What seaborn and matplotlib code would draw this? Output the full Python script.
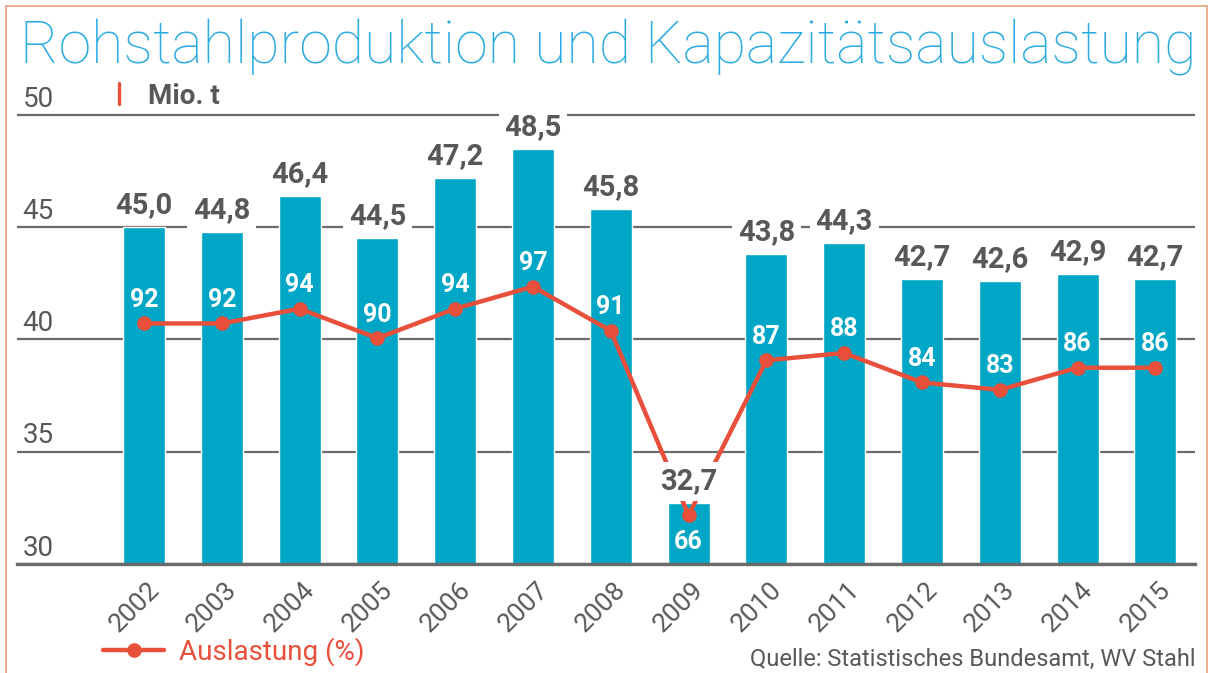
import numpy as np
import pandas as pd
import seaborn as sns
import matplotlib.pyplot as plt
from matplotlib.lines import Line2D
from matplotlib.patches import Rectangle
from matplotlib.transforms import ScaledTranslation

# =============================================================================
# Data
# =============================================================================

years = ["2002", "2003", "2004", "2005", "2006", "2007", "2008",
         "2009", "2010", "2011", "2012", "2013", "2014", "2015"]
production = [45.0, 44.8, 46.4, 44.5, 47.2, 48.5, 45.8,
              32.7, 43.8, 44.3, 42.7, 42.6, 42.9, 42.7]
utilisation = [92, 92, 94, 90, 94, 97, 91, 66, 87, 88, 84, 83, 86, 86]
y_ticks = [30, 35, 40, 45, 50]

title = "Rohstahlproduktion und Kapazitätsauslastung"
unit_label = "Mio. t"
legend_label = "Auslastung (%)"
source = "Quelle: Statistisches Bundesamt, WV Stahl"

df = pd.DataFrame({"Jahr": years, "Produktion": production,
                   "Auslastung": utilisation})
df["pos"] = np.arange(len(df))

# =============================================================================
# Style
# =============================================================================

BAR = "#00A6C5"
RED = "#E9503B"
GREY = "#585858"
GRID = "#6A6A6A"
BLUE = "#2BABE2"
FRAME = "#E4A07C"

sns.set_style("white")
FONT = ["Roboto", "DejaVu Sans"]
plt.rcParams["font.family"] = FONT

# =============================================================================
# Plot
# =============================================================================

fig = plt.figure(figsize=(12.14, 6.73), dpi=100)
ax = fig.add_axes([17 / 1214, 109 / 673, 1178 / 1214, 451.25 / 673])

sns.barplot(data=df, x="Jahr", y="Produktion", color=BAR, width=0.54,
            saturation=1, ax=ax, zorder=2)

ax.set_ylim(30, 50.1)
ax.set_xlim(-1.633, 13.51)
ax.set_yticks(y_ticks)
ax.yaxis.grid(True, color=GRID, linewidth=1.6, zorder=0)
ax.set_axisbelow(True)
ax.tick_params(axis="y", length=0, labelleft=False)
for s in ["top", "right", "left"]:
    ax.spines[s].set_visible(False)
ax.spines["bottom"].set_color(GRID)
ax.spines["bottom"].set_linewidth(2.4)
ax.set_xlabel("")
ax.set_ylabel("")

# ticks between categories, labels under the bars
ax.set_xticks(np.arange(-0.5, len(years), 1), minor=True)
ax.tick_params(axis="x", which="minor", length=9, width=1.8, color=GRID)
ax.tick_params(axis="x", which="major", length=0, pad=10)
ax.set_xticks(df["pos"])
ax.set_xticklabels(years, rotation=45, ha="right", fontsize=19,
                   color=GREY)
for lbl in ax.get_xticklabels():
    lbl.set_transform(lbl.get_transform()
                      + ScaledTranslation(20 / 100, 0, fig.dpi_scale_trans))

for v in y_ticks:
    ax.annotate(str(v), xy=(0, v), xycoords=ax.get_yaxis_transform(),
                xytext=(4, 6), textcoords="offset points", va="baseline",
                ha="left", fontsize=20, color=GREY)

# utilisation line on second axis
ax2 = ax.twinx()
sns.lineplot(data=df, x="pos", y="Auslastung", color=RED, linewidth=3.2,
             marker="o", markersize=10.5, markeredgewidth=0, ax=ax2,
             legend=False)
ax2.set_ylim(59.38, 120.58)
ax2.set_xlim(-1.633, 13.51)
ax2.axis("off")

lowest = min(utilisation)
for x, p in zip(df["pos"], utilisation):
    if p == lowest:
        ax2.annotate(str(p), xy=(x, p), xytext=(0, -11),
                     textcoords="offset points", ha="center", va="top",
                     fontsize=18, fontweight="bold", color="white")
    else:
        ax2.annotate(str(p), xy=(x, p), xytext=(0, 12),
                     textcoords="offset points", ha="center",
                     va="baseline", fontsize=18, fontweight="bold",
                     color="white")

# bar values (drawn on ax2 so their white box cuts the red line)
for x, v in zip(df["pos"], production):
    ax2.annotate(f"{v:.1f}".replace(".", ","), xy=(x, v),
                 xycoords=ax.transData, xytext=(0, 10),
                 textcoords="offset points", ha="center", va="baseline",
                 fontsize=21, fontweight="bold", color=GREY,
                 bbox=dict(boxstyle="square,pad=0.2", fc="white", ec="none"))

# =============================================================================
# Texts, legend, frame
# =============================================================================

fig.text(20 / 1214, 1 - 63 / 673, title, fontsize=42.5, color=BLUE,
         fontweight="light", ha="left", va="baseline")

fig.add_artist(Line2D([119 / 1214, 119 / 1214], [1 - 104 / 673, 1 - 83 / 673],
                      color=RED, linewidth=2.4))
fig.text(148 / 1214, 1 - 104 / 673, unit_label, fontsize=20,
         fontweight="bold", color=GREY, ha="left", va="baseline")

fig.text(1195 / 1214, 1 - 666 / 673, source, fontsize=17, color=GREY,
         ha="right", va="baseline")

handle = Line2D([], [], color=RED, linewidth=3.2, marker="o",
                markersize=10.5, markeredgewidth=0)
fig.legend([handle], [legend_label], loc="center left",
           bbox_to_anchor=(103 / 1214, 1 - 652 / 673), frameon=False,
           borderpad=0, borderaxespad=0, handlelength=2.2,
           handletextpad=0.55, labelcolor=RED,
           prop={"family": FONT, "size": 20})

fig.add_artist(Rectangle((6 / 1214, -0.05), 1201 / 1214, 1.05 - 6 / 673,
                         transform=fig.transFigure, fill=False,
                         edgecolor=FRAME, linewidth=1.2))

plt.savefig("out.png", dpi=100)
